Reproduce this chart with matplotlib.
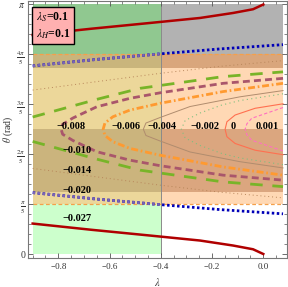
import numpy as np
import matplotlib
matplotlib.use('Agg')
import matplotlib.pyplot as plt
from matplotlib.patches import Rectangle

plt.rcParams['font.family'] = ['Liberation Serif', 'DejaVu Serif']
plt.rcParams['mathtext.fontset'] = 'stix'

# contour lines, upper branch (theta in units of pi), lower branch is the mirror about pi/2
lam_m027 = [-0.9, -0.670, -0.442, -0.247, -0.118, -0.040, -0.021, 0.0]
th_m027 = [0.878, 0.903, 0.926, 0.946, 0.966, 0.981, 0.990, 1.0]

lam_m020 = [-0.9, -0.649, -0.403, -0.169, 0.077]
th_m020 = [0.754, 0.780, 0.802, 0.822, 0.839]

lam_m014 = [-0.9, -0.649, -0.403, -0.169, 0.077]
th_m014 = [0.657, 0.691, 0.724, 0.752, 0.775]

lam_m010 = [-0.9, -0.649, -0.481, -0.157, 0.077]
th_m010 = [0.549, 0.620, 0.664, 0.711, 0.730]

lam_m008 = [-0.789, -0.783, -0.743, -0.650, -0.520, -0.403, -0.157, 0.077]
th_m008 = [0.5, 0.52, 0.545, 0.590, 0.624, 0.646, 0.684, 0.704]

lam_m006 = [-0.625, -0.618, -0.587, -0.520, -0.403, -0.157, 0.077]
th_m006 = [0.5, 0.525, 0.550, 0.577, 0.604, 0.651, 0.684]

lam_m004 = [-0.468, -0.458, -0.403, -0.286, -0.091, 0.077]
th_m004 = [0.5, 0.525, 0.547, 0.591, 0.630, 0.655]

lam_m002 = [-0.32, -0.305, -0.247, -0.162, -0.091, 0.077]
th_m002 = [0.5, 0.535, 0.565, 0.597, 0.615, 0.642]

lam_0 = [-0.149, -0.142, -0.110, -0.032, 0.077]
th_0 = [0.5, 0.53, 0.557, 0.584, 0.602]

lam_p001 = [-0.071, -0.064, -0.045, 0.077]
th_p001 = [0.5, 0.522, 0.544, 0.587]

levels = ['−0.027', '−0.020', '−0.014', '−0.010', '−0.008', '−0.006',
          '−0.004', '−0.002', '0', '0.001']

# region bands (theta / pi) and the lambda split
band_edges = [0.0, 0.2, 0.248, 0.5, 0.744, 0.8, 1.0]
lam_split = -0.4
lam_min, lam_max = -0.9, 0.077

lam_S = 0.1
lam_H = 0.1

# ---- drawing ----
fig = plt.figure(figsize=(2.88, 2.87), dpi=100)
ax = fig.add_axes([28/288, 29/287, 259/288, 257/287])

left_cols = ['#ccffcc', '#ecd79a', '#cbb47d', '#ecd79a', '#c9b57c', '#90c890']
right_cols = ['#ffffff', '#ffd8b4', '#dba67f', '#ffd8b4', '#d9a67c', '#b2b2b2']
for i in range(len(band_edges) - 1):
    y0, y1 = band_edges[i] * np.pi, band_edges[i + 1] * np.pi
    ax.add_patch(Rectangle((lam_min, y0), lam_split - lam_min, y1 - y0,
                           fc=left_cols[i], ec='none', zorder=0))
    ax.add_patch(Rectangle((lam_split, y0), lam_max - lam_split, y1 - y0,
                           fc=right_cols[i], ec='none', zorder=0))

for b in [0.2, 0.8]:
    ax.plot([lam_min, lam_max], [b * np.pi, b * np.pi], color='#f5a04a',
            lw=0.9, dashes=(3, 2), zorder=1)
ax.plot([lam_split, lam_split], [0, np.pi], color='#8a8a8a', lw=0.7, zorder=1)

curves = [
    (lam_m027, th_m027, dict(color='#b00000', lw=1.8)),
    (lam_m020, th_m020, dict(color='#0000b8', lw=2.0, dashes=(0.9, 0.9))),
    (lam_m014, th_m014, dict(color='#b8865a', lw=0.7, dashes=(1, 3))),
    (lam_m010, th_m010, dict(color='#78b428', lw=2.0, dashes=(4.5, 3.5))),
    (lam_m008, th_m008, dict(color='#a9566b', lw=2.0, dashes=(2.5, 1.5))),
    (lam_m006, th_m006, dict(color='#ff9a30', lw=2.0, dashes=(2.5, 1, 0.6, 1))),
    (lam_m004, th_m004, dict(color='#b08c6e', lw=0.7)),
    (lam_m002, th_m002, dict(color='#7fbf7f', lw=0.8, dashes=(1, 3))),
    (lam_0, th_0, dict(color='#ff7050', lw=0.8)),
    (lam_p001, th_p001, dict(color='#ff70c0', lw=0.8, dashes=(3, 2))),
]
for lam, th, st in curves:
    lam = np.array(lam)
    th = np.array(th)
    up = th * np.pi
    lo = (1 - th) * np.pi
    x = np.concatenate([lam[::-1], lam[1:]])
    y = np.concatenate([up[::-1], lo[1:]])
    if th[0] != 0.5:
        ax.plot(lam, up, zorder=3, **st)
        ax.plot(lam, lo, zorder=3, **st)
    else:
        ax.plot(x, y, zorder=3, **st)

# blue line looks purple where the left region covers it
clip = Rectangle((lam_min, 0), lam_split - lam_min, np.pi, transform=ax.transData)
for yy in [np.array(th_m020) * np.pi, (1 - np.array(th_m020)) * np.pi]:
    ln, = ax.plot(lam_m020, yy, color='#7a64b4', lw=2.0, dashes=(0.9, 0.9), zorder=3.5)
    ln.set_clip_path(clip)

lab_kw = dict(fontsize=7.5, fontweight='bold', ha='center', va='center', zorder=5)
top_x = [-0.750, -0.536, -0.397, -0.228, -0.118, 0.014]
for x, t in zip(top_x, levels[4:]):
    ax.text(x, 0.513 * np.pi, t, **lab_kw)
low_y = [0.143, 0.254, 0.334, 0.413]
for y, t in zip(low_y, levels[:4]):
    ax.text(-0.727, y * np.pi, t, **lab_kw)

ax.text(-0.887, 0.975 * np.pi,
        r'$\lambda_S$=%.1f' % lam_S + '\n' + r'$\lambda_H$=%.1f' % lam_H,
        fontsize=8.5, fontweight='bold', va='top', ha='left', linespacing=1.3, zorder=6,
        bbox=dict(boxstyle='square,pad=0.3', fc='#ffb0b0', ec='black', lw=1.0))

ax.set_xlim(-0.9182, 0.0925)
ax.set_ylim(-0.016 * np.pi, 1.014 * np.pi)

ax.set_xticks([-0.8, -0.6, -0.4, -0.2, 0.0])
ax.set_xticklabels(['−0.8', '−0.6', '−0.4', '−0.2', '0.0'])
ax.set_xticks(np.arange(-0.9, 0.09, 0.05), minor=True)
ax.set_yticks([k * np.pi / 5 for k in range(6)])
ax.set_yticklabels(['0', r'$\frac{\pi}{5}$', r'$\frac{2\pi}{5}$', r'$\frac{3\pi}{5}$',
                    r'$\frac{4\pi}{5}$', r'$\pi$'])
ax.set_yticks([k * np.pi / 25 for k in range(26)], minor=True)
ax.tick_params(which='both', direction='in', top=True, right=True, labelsize=6.5,
               colors='#555555', labelcolor='#333333')
ax.tick_params(axis='y', which='major', labelsize=7, pad=2)
ax.tick_params(which='major', length=3.5, width=0.6)
ax.tick_params(which='minor', length=2, width=0.5)
for s in ax.spines.values():
    s.set_color('#777777')
    s.set_linewidth(0.8)

ax.set_xlabel(r'$\lambda$', fontsize=7.5, color='#333333', labelpad=4)
ax.set_ylabel(r'$\theta$ (rad)', fontsize=7, color='#333333')
ax.yaxis.set_label_coords(-0.05, 0.5)

fig.savefig('out.png', dpi=100)
